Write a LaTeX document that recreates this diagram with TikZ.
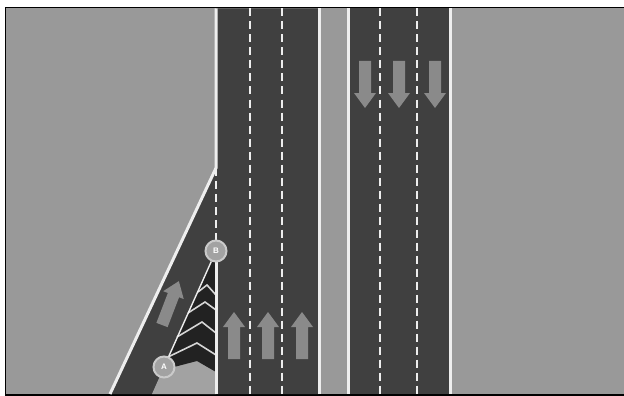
\documentclass[tikz,border=0pt]{standalone}
\usepackage{fontspec}
\setsansfont{Liberation Sans}
\definecolor{ground}{HTML}{999999}
\definecolor{asphalt}{HTML}{404040}
\definecolor{hatch}{HTML}{222222}
\definecolor{paint}{HTML}{EEEEEE}
\definecolor{arrowgray}{HTML}{8A8A8A}
\definecolor{gore}{HTML}{A2A2A2}
\tikzset{
  edgeline/.style={draw=paint, line width=3pt},
  laneline/.style={draw=paint, line width=2pt, dash pattern=on 8pt off 5pt},
  chevron/.style={draw=paint!90!black, line width=1.6pt},
  point/.style={circle, draw=paint!85!black, line width=2pt, fill=gore, text=white, minimum size=21pt, inner sep=0pt, font=\footnotesize\sffamily\bfseries},
  lanearrow/.pic={\fill[arrowgray] (-6,0) -- (-6,-32) -- (-11,-32) -- (0,-47) -- (11,-32) -- (6,-32) -- (6,0) -- cycle;},
}
\begin{document}
\begin{tikzpicture}[x=1pt, y=-1pt]
  \useasboundingbox (0,0) rectangle (624,396);
  % ground and frame
  \fill[white] (0,0) rectangle (624,396);
  \fill[black] (5,7) rectangle (624,396);
  \fill[ground] (6,8.5) rectangle (624,394);
  % carriageways
  \fill[asphalt] (216,8.5) -- (319,8.5) -- (319,394) -- (110,394) -- (216,168) -- cycle;
  \fill[asphalt] (348,8.5) rectangle (450,394);
  % gore area
  \fill[gore] (152,394) -- (164,367) -- (197,358) -- (216,370) -- (216,394) -- cycle;
  \fill[hatch] (164,367) -- (216,251) -- (216,372) -- (197,361) -- (174,367) -- cycle;
  \foreach \lx/\ly/\ax/\ay/\ry in {198/292/207/285/295, 188/313/205/302/310, 177/337/202/322/333, 168/357/197/343/355}
    \draw[chevron] (\lx,\ly) -- (\ax,\ay) -- (216,\ry);
  % edges
  \draw[edgeline] (216,8.5) -- (216,168) -- (110,394);
  \draw[edgeline] (216,251) -- (216,394);
  \draw[edgeline] (319,8.5) -- (319,394);
  \draw[edgeline] (348,8.5) -- (348,394);
  \draw[edgeline] (450.5,8.5) -- (450.5,394);
  % lanes
  \foreach \lanex in {250,282,380,417}
    \draw[laneline] (\lanex,8.5) -- (\lanex,394);
  \draw[laneline] (216,168) -- (216,251);
  % arrows
  \foreach \arrowx in {234,268,302}
    \pic at (\arrowx,359) {lanearrow};
  \foreach \arrowx in {365,399,435}
    \pic[rotate=180] at (\arrowx,61) {lanearrow};
  \pic[rotate=-21] at (162,325) {lanearrow};
  % taper points
  \node[point] (B) at (216,251) {B};
  \node[point] (A) at (164,367) {A};
  \draw[paint, line width=1.4pt] (A) -- (B);
\end{tikzpicture}
\end{document}
